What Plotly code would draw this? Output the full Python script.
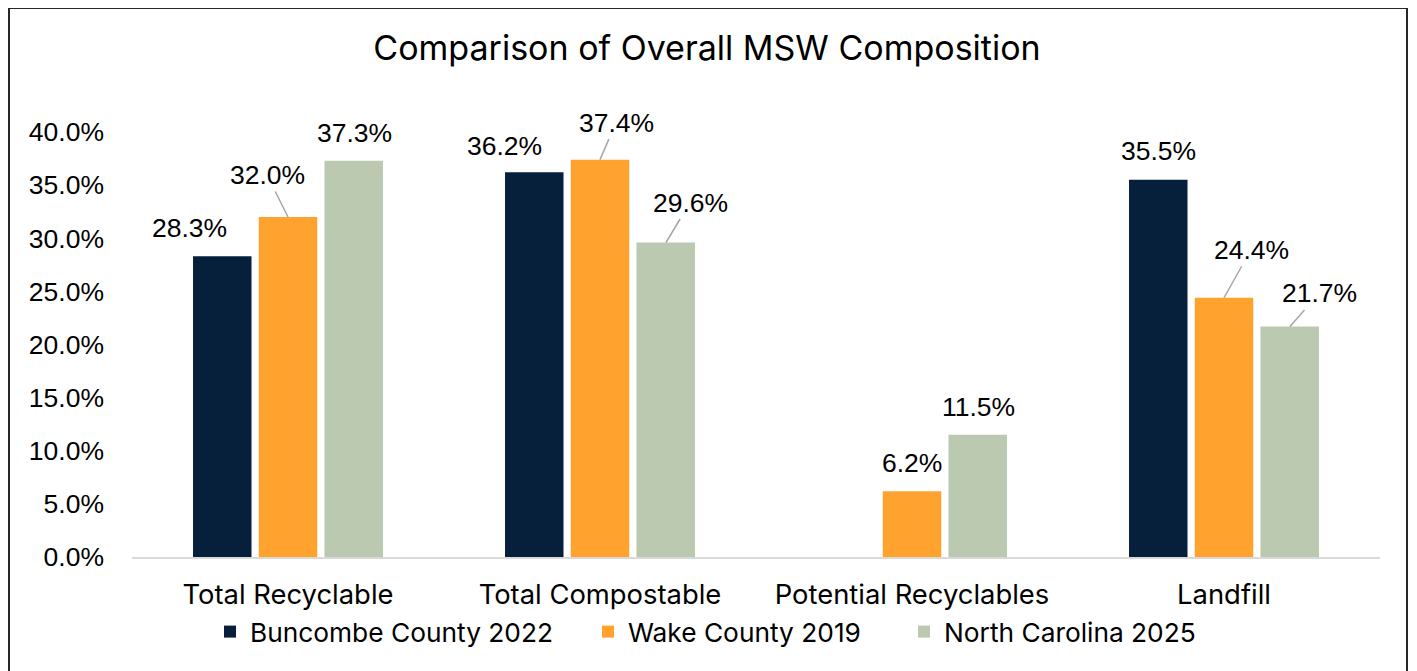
import plotly.graph_objects as go

categories = ["Total Recyclable", "Total Compostable", "Potential Recyclables", "Landfill"]
series_names = ["Buncombe County 2022", "Wake County 2019", "North Carolina 2025"]
buncombe = [28.3, 36.2, None, 35.5]
wake = [32.0, 37.4, 6.2, 24.4]
nc = [37.3, 29.6, 11.5, 21.7]
series_values = [buncombe, wake, nc]
colors = ["#061F3A", "#FFA22E", "#BCC9B1"]
y_ticks = [0, 5, 10, 15, 20, 25, 30, 35, 40]

# data label offsets (pixels) from each bar top, and whether a leader line is drawn
label_offsets = {
    (0, 0): (-33, -28, False), (0, 1): (-21, -42, True), (0, 2): (0, -28, False),
    (1, 0): (-30, -26, False), (1, 1): (16, -37, True), (1, 2): (24, -40, True),
    (2, 1): (0, -28, False), (2, 2): (0, -28, False),
    (3, 0): (0, -29, False), (3, 1): (27, -48, True), (3, 2): (29, -33, True),
}
series_shift = [-66, 0, 66]

# page has an 8px body margin, so the figure is 8px smaller than the window
W, H = 1409, 663
L, R, T, B = 124, 37, 124, 114
pw = W - L - R
ph = H - T - B

ARIAL = "Liberation Sans, Arial, sans-serif"
APTOS = "Inter, Liberation Sans, sans-serif"

fig = go.Figure()
legend_ids = ["legend", "legend2", "legend3"]
for name, vals, col, lg in zip(series_names, series_values, colors, legend_ids):
    fig.add_trace(go.Bar(name=name, x=categories, y=vals, legend=lg,
                         marker=dict(color=col, line=dict(width=0))))

for si, vals in enumerate(series_values):
    for ci, v in enumerate(vals):
        if v is None:
            continue
        ax, ay, leader = label_offsets[(ci, si)]
        fig.add_annotation(
            x=categories[ci], y=v, xref="x", yref="y",
            xshift=series_shift[si],
            text=f"{v:.1f}%", showarrow=True, ax=ax, ay=ay,
            arrowhead=0, arrowwidth=1.5,
            arrowcolor="#A6A6A6" if leader else "rgba(0,0,0,0)",
            standoff=0, startstandoff=0,
            font=dict(family=ARIAL, size=26.5, color="#000000"),
        )

fig.add_shape(type="rect", xref="paper", yref="paper",
              x0=(1 - L) / pw, x1=(1399 - L) / pw,
              y0=(H - B - 700) / ph, y1=(H - B) / ph,
              line=dict(color="#262626", width=2), fillcolor="rgba(0,0,0,0)", layer="above")

legend_text_start = [244, 622, 938]
legend_common = dict(orientation="h", xanchor="left", yanchor="middle",
                     y=(H - B - 624) / ph,
                     font=dict(family=APTOS, size=26.3, color="#000000"),
                     bgcolor="rgba(0,0,0,0)")
legends = {}
for lg, ts in zip(legend_ids, legend_text_start):
    legends[lg] = dict(legend_common, x=(ts - 42 - L) / pw)

fig.update_layout(
    width=W, height=H,
    margin=dict(l=L, r=R, t=T, b=B),
    paper_bgcolor="white", plot_bgcolor="white",
    barmode="group", bargap=0.368, bargroupgap=0.11,
    title=dict(text="Comparison of Overall MSW Composition", x=699 / W, xanchor="center",
               y=1 - 40 / H, yanchor="middle", yref="container",
               font=dict(family=APTOS, size=34, color="#000000")),
    xaxis=dict(showline=True, linecolor="#D9D9D9", linewidth=2, showgrid=False,
               ticks="", ticklabelstandoff=12,
               tickfont=dict(family=APTOS, size=27.4, color="#000000")),
    yaxis=dict(range=[0, 40], tickvals=y_ticks, ticktext=[f"{t:.1f}%" for t in y_ticks],
               showgrid=False, zeroline=False, showline=False, ticks="", ticklabelstandoff=27,
               tickfont=dict(family=ARIAL, size=26.5, color="#000000")),
    showlegend=True,
    **legends,
)

fig.write_html("out.html")
